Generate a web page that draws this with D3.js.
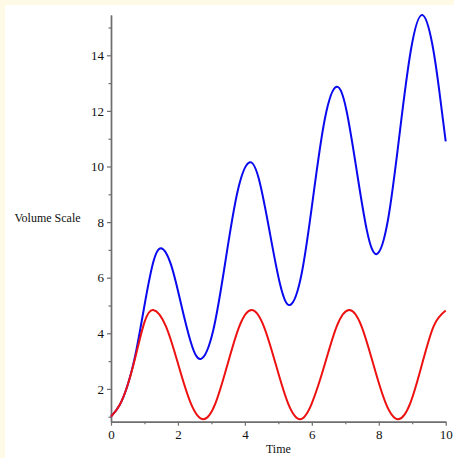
<!DOCTYPE html>
<html>
<head>
<meta charset="utf-8">
<script src="https://cdnjs.cloudflare.com/ajax/libs/d3/7.8.5/d3.min.js"></script>
<style>
  body { margin: 0; background: #fffae6; }
  svg { display: block; }
</style>
</head>
<body>
<div id="chart"></div>
<script>
// values (Time vs Volume Scale)
const redTime = [0, 0.25, 0.5, 0.75, 1.0, 1.26, 1.635, 2.01, 2.385, 2.76, 3.12, 3.48, 3.84, 4.2,
  4.56, 4.925, 5.29, 5.65, 6.0, 6.385, 6.75, 7.12, 7.48, 7.84, 8.21, 8.58, 8.94, 9.29, 9.645, 10.0];
const redVolume = [1.0, 1.4, 2.15, 3.25, 4.4, 4.84, 4.27, 2.875, 1.48, 0.91, 1.48, 2.875, 4.27, 4.84,
  4.27, 2.875, 1.48, 0.91, 1.48, 2.875, 4.27, 4.84, 4.27, 2.875, 1.48, 0.91, 1.48, 2.875, 4.27, 4.82];

const blueTime = [0, 0.25, 0.5, 0.75, 1.0, 1.25, 1.49, 1.79, 2.09, 2.39, 2.69, 3.055, 3.42, 3.785, 4.15,
  4.45, 4.75, 5.05, 5.35, 5.70, 6.045, 6.39, 6.74, 7.04, 7.34, 7.64, 7.94, 8.28, 8.62, 8.96, 9.30,
  9.6, 9.8, 10.0];
const blueVolume = [1.0, 1.4, 2.15, 3.35, 5.0, 6.5, 7.06, 6.48, 5.07, 3.66, 3.08, 4.11, 6.6, 9.12, 10.15,
  9.40, 7.59, 5.77, 5.02, 6.17, 8.95, 11.72, 12.87, 11.99, 9.86, 7.73, 6.85, 8.11, 11.15, 14.19, 15.45,
  14.4, 12.8, 10.9];

const xMajor = [0, 2, 4, 6, 8, 10];
const xMinor = [1, 3, 5, 7, 9];
const yMajor = [2, 4, 6, 8, 10, 12, 14];
const yMinor = [1, 3, 5, 7, 9, 11, 13, 15];

const width = 454, height = 458;
const font = "'Liberation Serif', 'Times New Roman', serif";
const axisColor = '#6e6e6e';

const svg = d3.select('#chart').append('svg')
  .attr('width', width)
  .attr('height', height);

// white plot panel inside the yellow frame
svg.append('rect')
  .attr('x', 5).attr('y', 5)
  .attr('width', width - 5).attr('height', height - 5)
  .attr('fill', '#ffffff');

const x = d3.scaleLinear().domain([0, 10]).range([111, 445.7]);
const y = d3.scaleLinear().domain([0.82, 15.45]).range([421.7, 15]);

function styleAxis(g) {
  g.attr('font-family', font).attr('font-size', 13);
  g.select('.domain').attr('stroke', axisColor).attr('stroke-width', 1.4);
  g.selectAll('.tick line').attr('stroke', axisColor).attr('stroke-width', 1.2);
  g.selectAll('text')
    .attr('font-family', font)
    .attr('font-size', 13)
    .attr('fill', '#111');
}

// Y axis (minor ticks first, then labelled ones)
svg.append('g')
  .attr('transform', `translate(${x(0)},0)`)
  .call(d3.axisLeft(y).tickValues(yMinor).tickSize(2.5).tickSizeOuter(0).tickFormat(''))
  .call(styleAxis);
svg.append('g')
  .attr('transform', `translate(${x(0)},0)`)
  .call(d3.axisLeft(y).tickValues(yMajor).tickSize(4).tickPadding(3).tickSizeOuter(0))
  .call(styleAxis);

// X axis
svg.append('g')
  .attr('transform', `translate(0,${y.range()[0]})`)
  .call(d3.axisBottom(x).tickValues(xMinor).tickSize(2.5).tickSizeOuter(0).tickFormat(''))
  .call(styleAxis);
svg.append('g')
  .attr('transform', `translate(0,${y.range()[0]})`)
  .call(d3.axisBottom(x).tickValues(xMajor).tickSize(4).tickPadding(4).tickSizeOuter(0))
  .call(styleAxis);

// axis labels
svg.append('text')
  .text('Time')
  .attr('x', x(5))
  .attr('y', 453)
  .attr('text-anchor', 'middle')
  .attr('font-family', font)
  .attr('font-size', 12)
  .attr('fill', '#111');

svg.append('text')
  .text('Volume Scale')
  .attr('x', 47.5)
  .attr('y', 222)
  .attr('text-anchor', 'middle')
  .attr('font-family', font)
  .attr('font-size', 12)
  .attr('fill', '#111');

// curves
const line = d3.line()
  .x((d) => x(d[0]))
  .y((d) => y(d[1]))
  .curve(d3.curveNatural);

svg.append('path')
  .datum(blueTime.map((t, i) => [t, blueVolume[i]]))
  .attr('d', line)
  .attr('fill', 'none')
  .attr('stroke', '#0a0aee')
  .attr('stroke-width', 2);

svg.append('path')
  .datum(redTime.map((t, i) => [t, redVolume[i]]))
  .attr('d', line)
  .attr('fill', 'none')
  .attr('stroke', '#ee1111')
  .attr('stroke-width', 2);
</script>
</body>
</html>
